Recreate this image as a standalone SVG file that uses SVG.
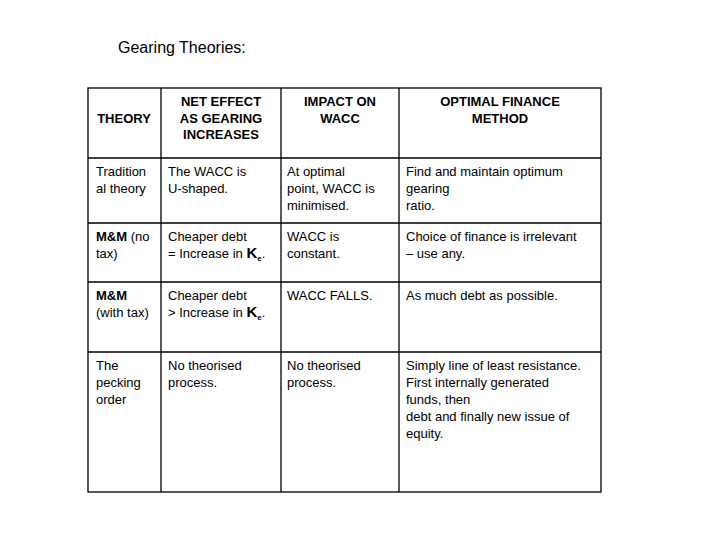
<svg xmlns="http://www.w3.org/2000/svg" width="720" height="540" viewBox="0 0 720 540">
<style>
text{font-family:"Liberation Sans",Arial,sans-serif;font-size:13px;fill:#000}
.h{font-weight:bold;text-anchor:middle}
.b{font-weight:bold}
line{stroke:#000;stroke-width:1.3}
</style>
<rect width="720" height="540" fill="#fff"/>
<text x="118" y="53" style="font-size:16px">Gearing Theories:</text>
<g id="grid">
<rect x="88" y="88" width="513" height="404" fill="none" stroke="#000" stroke-width="1.3"/>
<line x1="161" y1="88" x2="161" y2="492"/>
<line x1="281" y1="88" x2="281" y2="492"/>
<line x1="399" y1="88" x2="399" y2="492"/>
<line x1="88" y1="158" x2="601" y2="158"/>
<line x1="88" y1="223" x2="601" y2="223"/>
<line x1="88" y1="282" x2="601" y2="282"/>
<line x1="88" y1="352" x2="601" y2="352"/>
</g>
<g id="header">
<text class="h" x="124" y="123">THEORY</text>
<text class="h" x="221" y="106">NET EFFECT</text>
<text class="h" x="221" y="123">AS GEARING</text>
<text class="h" x="221" y="139">INCREASES</text>
<text class="h" x="340" y="106">IMPACT ON</text>
<text class="h" x="340" y="123">WACC</text>
<text class="h" x="500" y="106">OPTIMAL FINANCE</text>
<text class="h" x="500" y="123">METHOD</text>
</g>
<g id="row1">
<text x="96" y="176">Tradition</text><text x="96" y="193">al theory</text>
<text x="168" y="176">The WACC is</text><text x="168" y="193">U-shaped.</text>
<text x="287" y="176">At optimal</text><text x="287" y="193">point, WACC is</text><text x="287" y="210">minimised.</text>
<text x="406" y="176">Find and maintain optimum</text><text x="406" y="193">gearing</text><text x="406" y="210">ratio.</text>
</g>
<g id="row2">
<text x="96" y="241"><tspan class="b">M&amp;M</tspan> (no</text><text x="96" y="258">tax)</text>
<text x="168" y="241">Cheaper debt</text><text x="168" y="258">= Increase in <tspan class="b" style="font-size:15px">K</tspan><tspan class="b" style="font-size:8px" dy="3">e</tspan><tspan dy="-3">.</tspan></text>
<text x="287" y="241">WACC is</text><text x="287" y="258">constant.</text>
<text x="406" y="241">Choice of finance is irrelevant</text><text x="406" y="258">– use any.</text>
</g>
<g id="row3">
<text x="96" y="300" class="b">M&amp;M</text><text x="96" y="317">(with tax)</text>
<text x="168" y="300">Cheaper debt</text><text x="168" y="317">&gt; Increase in <tspan class="b" style="font-size:15px">K</tspan><tspan class="b" style="font-size:8px" dy="3">e</tspan><tspan dy="-3">.</tspan></text>
<text x="287" y="300">WACC FALLS.</text>
<text x="406" y="300">As much debt as possible.</text>
</g>
<g id="row4">
<text x="96" y="370">The</text><text x="96" y="387">pecking</text><text x="96" y="404">order</text>
<text x="168" y="370">No theorised</text><text x="168" y="387">process.</text>
<text x="287" y="370">No theorised</text><text x="287" y="387">process.</text>
<text x="406" y="370">Simply line of least resistance.</text><text x="406" y="387">First internally generated</text><text x="406" y="404">funds, then</text><text x="406" y="421">debt and finally new issue of</text><text x="406" y="438">equity.</text>
</g>
</svg>
